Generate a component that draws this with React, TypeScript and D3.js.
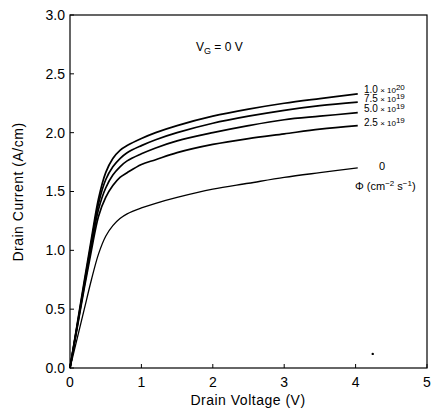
import React from "react";
import * as d3 from "d3";

const xTicks = [0, 1, 2, 3, 4, 5];
const yTicks = [0, 0.5, 1.0, 1.5, 2.0, 2.5, 3.0];

const voltages = [0, 0.1, 0.2, 0.3, 0.4, 0.5, 0.6, 0.7, 0.8, 1.0, 1.2, 1.5, 2.0, 2.5, 3.0, 3.5, 4.03];
const curve1e20 = [0, 0.37, 0.74, 1.1, 1.44, 1.66, 1.78, 1.85, 1.89, 1.95, 2.0, 2.06, 2.14, 2.2, 2.25, 2.29, 2.33];
const curve75e19 = [0, 0.36, 0.72, 1.07, 1.4, 1.6, 1.71, 1.78, 1.83, 1.89, 1.94, 2.0, 2.08, 2.14, 2.19, 2.23, 2.26];
const curve50e19 = [0, 0.35, 0.7, 1.04, 1.35, 1.53, 1.64, 1.71, 1.76, 1.82, 1.87, 1.93, 2.0, 2.06, 2.11, 2.14, 2.17];
const curve25e19 = [0, 0.34, 0.68, 1.0, 1.29, 1.45, 1.55, 1.62, 1.66, 1.73, 1.77, 1.83, 1.9, 1.95, 1.99, 2.03, 2.06];
const curve0 = [0, 0.25, 0.5, 0.75, 0.97, 1.12, 1.21, 1.27, 1.31, 1.36, 1.4, 1.45, 1.52, 1.57, 1.62, 1.66, 1.7];

const seriesList = [curve1e20, curve75e19, curve50e19, curve25e19, curve0];
const fluxMantissa = ["1.0", "7.5", "5.0", "2.5"];
const fluxExponent = ["20", "19", "19", "19"];

export default function App() {
  const W = 432, H = 410;
  const x = d3.scaleLinear().domain([0, 5]).range([70, 427]);
  const y = d3.scaleLinear().domain([0, 3]).range([368, 15]);
  const line = d3
    .line<number>()
    .x((_, i) => x(voltages[i]))
    .y((d) => y(d))
    .curve(d3.curveCatmullRom.alpha(0.5));

  const font = "'Liberation Sans', Arial, sans-serif";
  const labelYs = [y(2.36), y(2.285), y(2.205), y(2.085)];

  return (
    <svg width={W} height={H} style={{ position: "absolute", left: 0, top: 0, background: "#fff" }} fontFamily={font}>
      <rect x={0} y={0} width={W} height={H} fill="#fff" />
      <rect x={x(0)} y={y(3)} width={x(5) - x(0)} height={y(0) - y(3)} fill="none" stroke="#000" strokeWidth={1.2} />
      {yTicks.map((t) => (
        <g key={"y" + t}>
          <line x1={x(0)} x2={x(0) + 4} y1={y(t)} y2={y(t)} stroke="#000" strokeWidth={1} />
          <text x={x(0) - 5} y={y(t)} dy="0.35em" textAnchor="end" fontSize={14}>
            {t.toFixed(1)}
          </text>
        </g>
      ))}
      {xTicks.map((t) => (
        <g key={"x" + t}>
          <line x1={x(t)} x2={x(t)} y1={y(0)} y2={y(0) - 4} stroke="#000" strokeWidth={1} />
          <text x={x(t)} y={y(0) + 19} textAnchor="middle" fontSize={14}>
            {t}
          </text>
        </g>
      ))}
      <text x={248} y={405} textAnchor="middle" fontSize={14} letterSpacing={0.5}>
        Drain  Voltage  (V)
      </text>
      <text transform={`translate(23,192) rotate(-90)`} textAnchor="middle" fontSize={14} letterSpacing={0.5}>
        Drain  Current  (A/cm)
      </text>
      {seriesList.map((s, i) => (
        <path key={i} d={line(s) || ""} fill="none" stroke="#000" strokeWidth={i === 4 ? 1.3 : 1.7} />
      ))}
      {fluxMantissa.map((m, i) => (
        <text key={m} x={364} y={labelYs[i] + 3} fontSize={10}>
          {m}
          <tspan fontSize={8}> × 10</tspan>
          <tspan dy={-3} fontSize={8}>{fluxExponent[i]}</tspan>
        </text>
      ))}
      <text x={382} y={y(1.72) + 4} textAnchor="middle" fontSize={11}>0</text>
      <text x={355} y={190} fontSize={11}>
        Φ (cm<tspan dy={-4} fontSize={8}>−2</tspan>
        <tspan dy={4}> s</tspan>
        <tspan dy={-4} fontSize={8}>−1</tspan>
        <tspan dy={4}>)</tspan>
      </text>
      <text x={196} y={51} fontSize={12}>
        V<tspan dy={3} fontSize={9}>G</tspan>
        <tspan dy={-3}> = 0 V</tspan>
      </text>
      <circle cx={x(4.24)} cy={y(0.12)} r={1.2} fill="#000" />
    </svg>
  );
}
